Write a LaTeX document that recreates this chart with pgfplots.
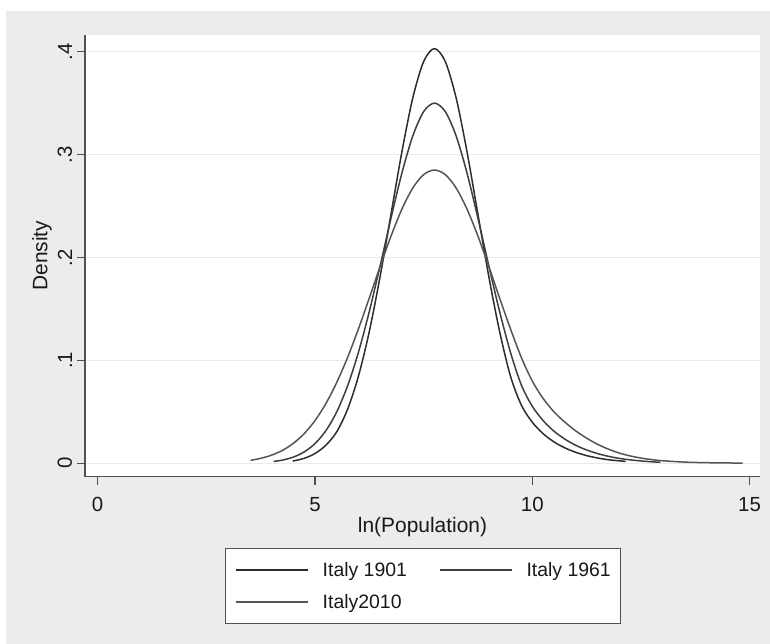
\documentclass[border=0pt]{standalone}
\usepackage{pgfplots}
\pgfplotsset{compat=1.18}
\usepackage{fontspec}
\setmainfont{Liberation Sans}
\definecolor{bggray}{RGB}{236,236,236}
\definecolor{gridgray}{RGB}{234,234,234}
\definecolor{axisgray}{RGB}{80,80,80}
\definecolor{txt}{RGB}{25,25,25}
\definecolor{cA}{RGB}{45,45,45}
\definecolor{cB}{RGB}{62,62,62}
\definecolor{cC}{RGB}{85,85,85}
\begin{document}
\begin{tikzpicture}[x=1bp,y=1bp]
\fill[white] (0,0) rectangle (770,644);
\fill[bggray] (6,0) rectangle (770,633);
\begin{axis}[
  at={(85bp,167.3bp)}, anchor=south west,
  scale only axis, width=675bp, height=441.7bp,
  xmin=-0.29, xmax=15.24, ymin=-0.013, ymax=0.4162,
  axis background/.style={fill=white},
  axis x line*=bottom, axis y line*=left,
  axis line style={draw=axisgray, line width=1.2bp, -},
  xtick={0,5,10,15}, xticklabels={0,5,10,15},
  ytick={0,0.1,0.2,0.3,0.4}, yticklabels={0,.1,.2,.3,.4},
  tick align=outside, major tick length=8bp,
  tick style={draw=axisgray, line width=1.2bp},
  ymajorgrids, grid style={draw=gridgray, line width=1.5bp},
  /pgf/number format/assume math mode=true,
  every tick label/.append style={font=\fontsize{20.5}{24}\selectfont, text=txt},
  xticklabel style={inner sep=0pt, anchor=north},
  xticklabel shift=12.5bp,
  yticklabel style={inner sep=0pt, rotate=90, anchor=south},
  yticklabel shift=4.7bp,
  xlabel={ln(Population)}, ylabel={Density},
  xlabel style={at={(axis description cs:0.5,-0.1150)}, anchor=center, inner sep=0pt, font=\fontsize{21}{24}\selectfont, text=txt},
  ylabel style={at={(axis description cs:-0.0637,0.5)}, anchor=center, inner sep=0pt, font=\fontsize{21}{24}\selectfont, text=txt},
  legend columns=2,
  legend image code/.code={\draw[#1, line width=1.6bp] (0bp,0bp) -- (72bp,0bp);},
  legend style={at={(axis description cs:0.5007,-0.1614)}, anchor=north,
    draw=axisgray, line width=1.2bp, fill=white,
    font=\fontsize{19.5}{22}\selectfont, text=txt,
    inner xsep=10bp, inner ysep=11.5bp,
    nodes={inner xsep=0bp, inner ysep=2bp},
    row sep=12.5bp,
    /tikz/every odd column/.append style={column sep=14bp},
    /tikz/every even column/.append style={column sep=32bp}},
  legend cell align=left,
]
\addplot[color=cA, line width=1.5bp, smooth] coordinates {
(4.49,0.0022) (4.75,0.0048) (5.0,0.0095) (5.25,0.0175) (5.5,0.0305) (5.75,0.0524)
(6.0,0.0845) (6.25,0.1279) (6.5,0.1816) (6.75,0.2420) (7.0,0.3025) (7.25,0.3548)
(7.5,0.3903) (7.75,0.4030) (8.0,0.3903) (8.25,0.3548) (8.5,0.3025) (8.75,0.2420)
(9.0,0.1816) (9.25,0.1279) (9.5,0.0845) (9.75,0.0565) (10.0,0.0400) (10.25,0.0288)
(10.5,0.0208) (10.75,0.0150) (11.0,0.0107) (11.25,0.0075) (11.5,0.0052) (11.75,0.0035)
(12.0,0.0024) (12.15,0.0019)
};
\addlegendentry{Italy 1901}
\addplot[color=cB, line width=1.5bp, smooth] coordinates {
(4.05,0.0018) (4.25,0.0031) (4.5,0.0060) (4.75,0.0110) (5.0,0.0191) (5.25,0.0316)
(5.5,0.0499) (5.75,0.0751) (6.0,0.1077) (6.25,0.1473) (6.5,0.1919) (6.75,0.2382)
(7.0,0.2819) (7.25,0.3179) (7.5,0.3417) (7.75,0.3500) (8.0,0.3417) (8.25,0.3179)
(8.5,0.2819) (8.75,0.2382) (9.0,0.1919) (9.25,0.1473) (9.5,0.1077) (9.75,0.0760)
(10.0,0.0555) (10.25,0.0415) (10.5,0.0312) (10.75,0.0235) (11.0,0.0175) (11.25,0.0130)
(11.5,0.0095) (11.75,0.0068) (12.0,0.0048) (12.25,0.0034) (12.5,0.0023) (12.75,0.0015)
(12.95,0.0010)
};
\addlegendentry{Italy 1961}
\addplot[color=cC, line width=1.5bp, smooth] coordinates {
(3.52,0.0029) (3.75,0.0048) (4.0,0.0079) (4.25,0.0125) (4.5,0.0193) (4.75,0.0287)
(5.0,0.0414) (5.25,0.0579) (5.5,0.0784) (5.75,0.1027) (6.0,0.1305) (6.25,0.1605)
(6.5,0.1913) (6.75,0.2208) (7.0,0.2469) (7.25,0.2674) (7.5,0.2805) (7.75,0.2850)
(8.0,0.2805) (8.25,0.2674) (8.5,0.2469) (8.75,0.2208) (9.0,0.1913) (9.25,0.1605)
(9.5,0.1305) (9.75,0.1027) (10.0,0.0800) (10.25,0.0630) (10.5,0.0500) (10.75,0.0400)
(11.0,0.0315) (11.25,0.0245) (11.5,0.0185) (11.75,0.0138) (12.0,0.0100) (12.25,0.0072)
(12.5,0.0051) (12.75,0.0036) (13.0,0.0025) (13.5,0.0012) (14.0,0.0006) (14.84,0.0002)
};
\addlegendentry{Italy2010}
\end{axis}
\end{tikzpicture}
\end{document}
